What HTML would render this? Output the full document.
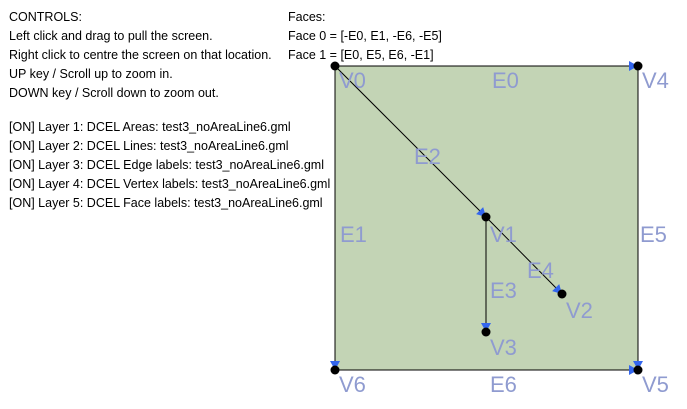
<!DOCTYPE html>
<html><head><meta charset="utf-8"><style>
body{margin:0;background:#fff;width:687px;height:409px;overflow:hidden;font-family:"Liberation Sans",sans-serif}
svg{position:absolute;left:0;top:0}
</style></head><body>
<svg width="687" height="409">
<g font-size="12.5" fill="#000">
<text x="9" y="21">CONTROLS:</text>
<text x="9" y="40">Left click and drag to pull the screen.</text>
<text x="9" y="59">Right click to centre the screen on that location.</text>
<text x="9" y="78">UP key / Scroll up to zoom in.</text>
<text x="9" y="97">DOWN key / Scroll down to zoom out.</text>
<text x="9" y="131">[ON] Layer 1: DCEL Areas: test3_noAreaLine6.gml</text>
<text x="9" y="150">[ON] Layer 2: DCEL Lines: test3_noAreaLine6.gml</text>
<text x="9" y="169">[ON] Layer 3: DCEL Edge labels: test3_noAreaLine6.gml</text>
<text x="9" y="188">[ON] Layer 4: DCEL Vertex labels: test3_noAreaLine6.gml</text>
<text x="9" y="207">[ON] Layer 5: DCEL Face labels: test3_noAreaLine6.gml</text>
</g>
<g font-size="12.5">
<text x="288" y="21">Faces:</text>
<text x="288" y="40">Face 0 = [-E0, E1, -E6, -E5]</text>
<text x="288" y="59">Face 1 = [E0, E5, E6, -E1]</text>
</g>
<g id="g"></g>
</svg>
<script>
const vx=[335,486,562,486,638,638,335];
const vy=[66,217,294,332,66,370,370];
const edges=[[0,4],[0,6],[0,1],[1,3],[1,2],[4,5],[6,5]];
const elx=[492,340,414,490,527,640,490];
const ely=[88,242,164,298,278,242,392];
const vlx=[339,490,566,490,642,642,339];
const vly=[88,242,318,355,88,392,392];
const ns="http://www.w3.org/2000/svg",g=document.getElementById('g');
function mk(t,a){const e=document.createElementNS(ns,t);for(const k in a)e.setAttribute(k,a[k]);g.appendChild(e);return e;}
let r=mk('rect',{x:vx[0],y:vy[0],width:vx[4]-vx[0],height:vy[5]-vy[0],fill:'#c3d4b5',stroke:'#000','stroke-width':1});


edges.forEach((e,i)=>{
 let l=mk('line',{x1:vx[e[0]],y1:vy[e[0]],x2:vx[e[1]],y2:vy[e[1]],stroke:'#000','stroke-width':1});
 
 
 const x2=vx[e[1]],y2=vy[e[1]],dx=x2-vx[e[0]],dy=y2-vy[e[0]],L=Math.hypot(dx,dy),ux=dx/L,uy=dy/L;
 const bx=x2-ux*9,by=y2-uy*9;
 let a=mk('polygon',{points:`${x2},${y2} ${bx-uy*5},${by+ux*5} ${bx+uy*5},${by-ux*5}`,fill:'#3366ee'});
 
 
 let t=mk('text',{x:elx[i],y:ely[i],'font-size':22,fill:'#8f9bd0'});t.textContent='E'+i;
 
 
});
vx.forEach((x,i)=>{
 let c=mk('circle',{cx:x,cy:vy[i],r:4.5,fill:'#000'});
 
 
 let t=mk('text',{x:vlx[i],y:vly[i],'font-size':22,fill:'#8f9bd0'});t.textContent='V'+i;
 
 
});
</script>
</body></html>
